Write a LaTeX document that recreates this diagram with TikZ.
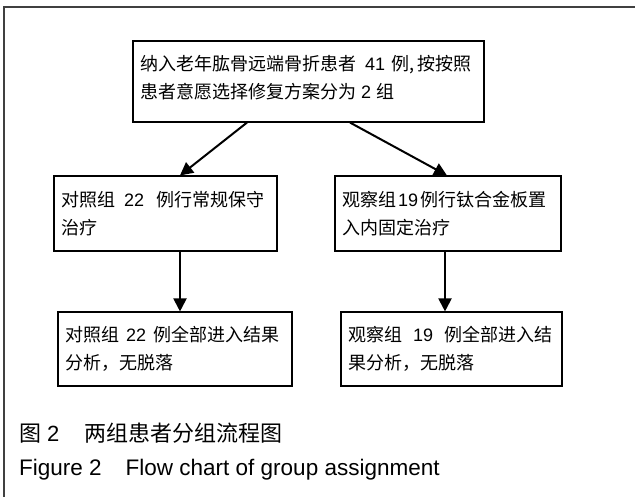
\documentclass[tikz,border=0pt]{standalone}
\usepackage{fontspec}
\setmainfont{Liberation Sans}
\newfontfamily\cjk{Noto Sans CJK SC}
\usetikzlibrary{arrows.meta}
\begin{document}
\begin{tikzpicture}[x=1pt,y=1pt,
  flowbox/.style={draw=black, line width=1.1pt, inner xsep=7pt, inner ysep=0pt,
    align=left, text=black, font=\fontsize{18}{28}\selectfont},
  flowarrow/.style={line width=2pt, -{Triangle[length=13pt,width=13pt]}},
  captext/.style={anchor=base west, inner sep=0pt, text=black}]
\useasboundingbox (0,0) rectangle (635,-497);
\draw[line width=1.3pt, black!75] (4,-497) -- (4,-7) -- (635,-7);

\node[flowbox, minimum width=351pt, minimum height=81pt, text width=337pt] (top) at (308.5,-81.5)
  {{\cjk 纳入老年肱骨远端骨折患者}\hspace{9pt}41\hspace{6pt}{\cjk 例,\hspace{3pt}按按照}\\{\cjk 患者意愿选择修复方案分为}\hspace{5pt}2\hspace{5pt}{\cjk 组}\\[-18pt]\mbox{}};

\node[flowbox, minimum width=223pt, minimum height=75pt, text width=209pt] (ml) at (165.5,-213.5)
  {{\cjk 对照组}\hspace{9pt}22\hspace{12pt}{\cjk 例行常规保守}\\{\cjk 治疗}};

\node[flowbox, minimum width=226pt, minimum height=75pt, text width=212pt] (mr) at (448,-213.5)
  {{\cjk 观察组}\hspace{2pt}19\hspace{2pt}{\cjk 例行钛合金板置}\\{\cjk 入内固定治疗}};

\node[flowbox, minimum width=234pt, minimum height=74pt, text width=220pt] (bl) at (175,-349)
  {{\cjk 对照组}\hspace{7pt}22\hspace{7pt}{\cjk 例全部进入结果}\\{\cjk 分析，无脱落}};

\node[flowbox, minimum width=221pt, minimum height=74pt, text width=207pt] (br) at (451.5,-349)
  {{\cjk 观察组}\hspace{11pt}19\hspace{11pt}{\cjk 例全部进入结}\\{\cjk 果分析，无脱落}};

\draw[flowarrow] ([xshift=-61.5pt]top.south) -- ([xshift=14.5pt]ml.north);
\draw[flowarrow] ([xshift=41.5pt]top.south) -- ([xshift=-1pt]mr.north);
\draw[flowarrow] ([xshift=14.5pt]ml.south) -- ([xshift=14.5pt]ml.south |- bl.north);
\draw[flowarrow] ([xshift=-3pt]mr.south) -- ([xshift=-3pt]mr.south |- br.north);

\node[captext, font=\fontsize{22}{24}\selectfont] (cap1) at (19,-441)
  {{\cjk 图}\hspace{6pt}2\hspace{25pt}{\cjk 两组患者分组流程图}};
\node[captext, font=\fontsize{22.5}{24}\selectfont] (cap2) at (19,-475)
  {Figure 2\hspace{24pt}Flow chart of group assignment};
\end{tikzpicture}
\end{document}
